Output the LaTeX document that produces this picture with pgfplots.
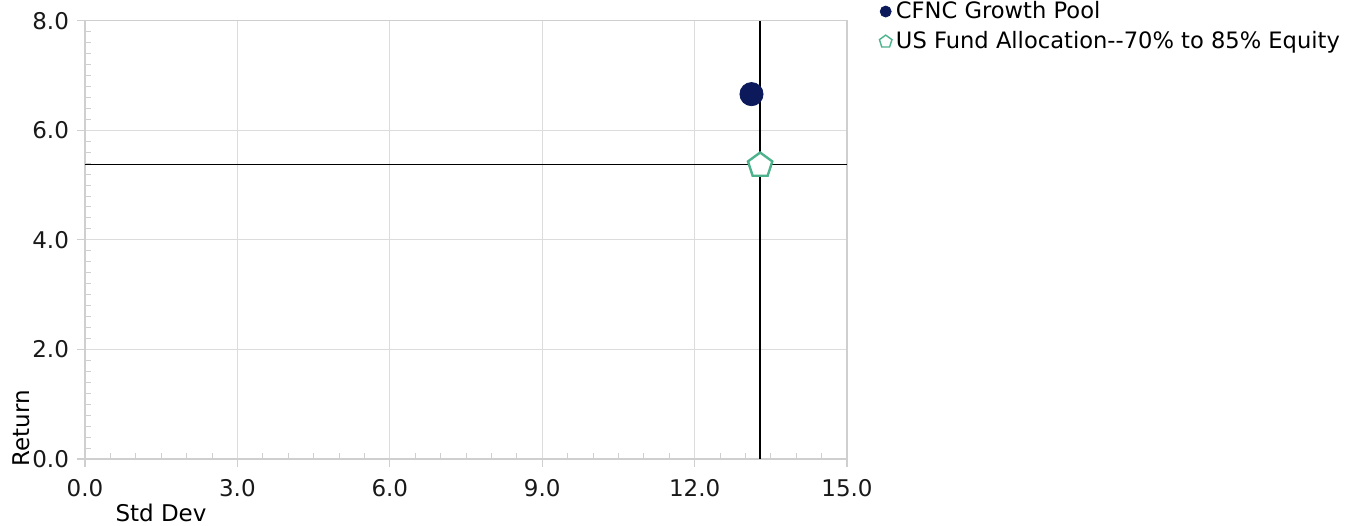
\documentclass[border=0pt]{standalone}
\usepackage{fontspec}
\setmainfont{DejaVu Sans}
\usepackage{pgfplots}
\pgfplotsset{compat=1.18}
\usetikzlibrary{plotmarks}
\definecolor{navy}{HTML}{0C1A5B}
\definecolor{tealg}{HTML}{4CB38C}
\definecolor{gridc}{HTML}{DCDCDC}
\definecolor{axc}{HTML}{CFCFCF}
\newcommand{\fs}{\fontsize{11.5pt}{14pt}\selectfont}
\newcommand{\lfs}{\fontsize{11.3pt}{14pt}\selectfont}
\begin{document}
\begin{tikzpicture}
\useasboundingbox (0,0) rectangle (676.5pt,262.5pt);
\begin{axis}[
  at={(42.5pt,33pt)}, anchor=south west,
  scale only axis, width=381pt, height=219.15pt,
  xmin=0, xmax=15, ymin=0, ymax=8,
  xtick={0,3,6,9,12,15}, ytick={0,2,4,6,8},
  minor x tick num=5, minor y tick num=9,
  /pgf/number format/.cd, fixed, fixed zerofill, precision=1, assume math mode=true,
  /pgfplots/.cd,
  axis line style={axc, line width=0.6pt},
  grid=major, major grid style={gridc, line width=0.6pt},
  tick pos=left,
  tick align=inside, major tick length=0pt, minor tick length=3pt,
  minor tick style={axc, line width=0.5pt},
  extra x ticks={0,3,6,9,12,15}, extra x tick labels={},
  extra y ticks={0,2,4,6,8}, extra y tick labels={},
  extra tick style={tick align=outside, major tick length=4pt, grid=none, major tick style={axc, line width=0.6pt}},
  tick label style={font=\fs, text=black!90},
  xticklabel style={yshift=-6.5pt},
  yticklabel style={xshift=-4.5pt},
  legend style={draw=none, fill=none, at={(1.042,1.054)}, anchor=north west,
    inner sep=0pt, font=\lfs, row sep=1pt, legend cell align=left},
  legend cell align=left,
  clip=false,
]
\addplot[black, line width=0.7pt, forget plot] coordinates {(13.29,0) (13.29,8)};
\addplot[black, line width=0.7pt, forget plot] coordinates {(0,5.38) (15,5.38)};
\addplot[only marks, mark=*, mark size=5.8pt, mark options={draw=navy, fill=navy},
  legend image code/.code={\draw[draw=navy, fill=navy] (0.05cm,0) circle (2.75pt);}]
  coordinates {(13.12,6.66)};
\addlegendentry{CFNC Growth Pool}
\addplot[only marks, mark=pentagon*, mark size=6.4pt, mark options={draw=tealg, fill=white, line width=1.2pt},
  legend image code/.code={\draw[mark=pentagon*, mark size=3.3pt, mark options={draw=tealg, fill=white, line width=0.7pt}] plot coordinates {(0.05cm,0)};}]
  coordinates {(13.29,5.36)};
\addlegendentry{US Fund Allocation-{}-70\% to 85\% Equity}
\end{axis}
\node[rotate=90, font=\fs] at (10.5pt,48.5pt) {Return};
\node[font=\fs] at (80.5pt,6pt) {Std Dev};
\end{tikzpicture}
\end{document}
